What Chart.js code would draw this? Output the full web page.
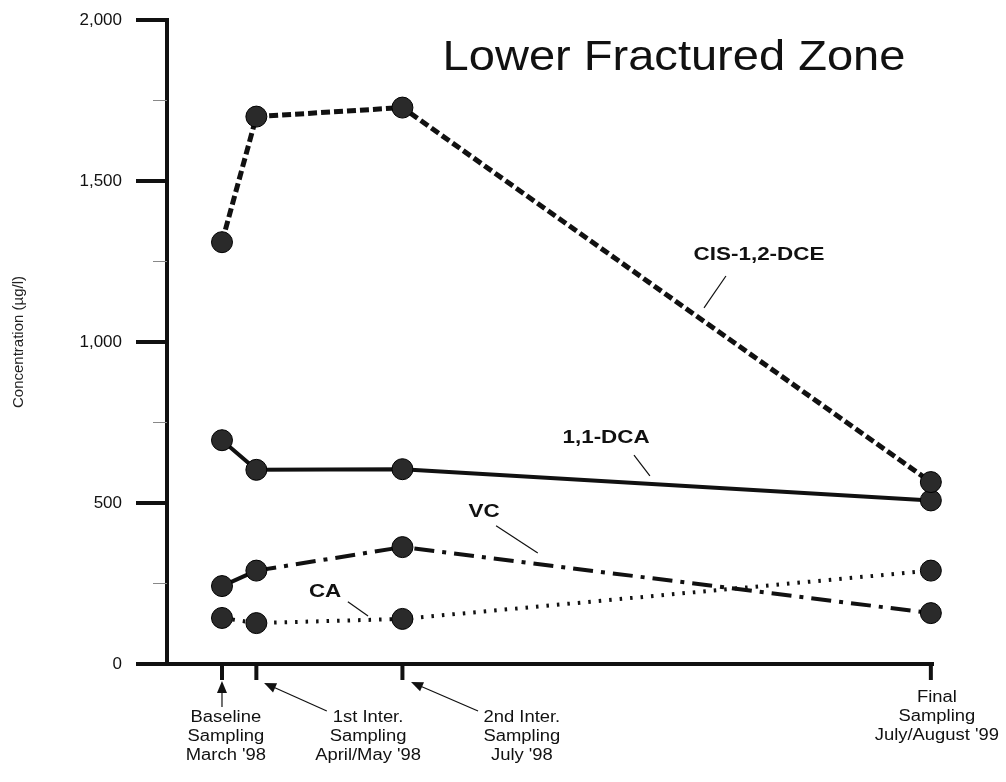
<!DOCTYPE html>
<html lang="en">
<head>
<meta charset="UTF-8">
<title>Lower Fractured Zone</title>
<script src="https://cdn.jsdelivr.net/npm/chart.js"></script>
<style>
  html, body { margin: 0; padding: 0; background: #fff; }
</style>
</head>
<body>
<canvas id="chart" width="1006" height="782"></canvas>
<script>
// sampling events, in months after the baseline round (March '98)
const sampleMonths = [0, 0.8, 4.2, 16.5];
const sampleLabels = [
  ['Baseline', 'Sampling', "March '98"],
  ['1st Inter.', 'Sampling', "April/May '98"],
  ['2nd Inter.', 'Sampling', "July '98"],
  ['Final', 'Sampling', "July/August '99"]
];
const seriesNames = ['CIS-1,2-DCE', '1,1-DCA', 'VC', 'CA'];
const cisDce = [1310, 1700, 1728, 565];
const dca = [695, 603, 605, 508];
const vc = [242, 290, 363, 158];
const ca = [143, 127, 140, 290];
const yTicks = [0, 500, 1000, 1500, 2000];

// where the series names and their leader lines sit (months, µg/l)
const seriesNotes = [
  { at: [12.5, 1270], from: [11.73, 1205], to: [11.22, 1106] },
  { at: [8.94, 702], from: [9.59, 649], to: [9.96, 584] },
  { at: [6.1, 472], from: [6.38, 429], to: [7.35, 345] },
  { at: [2.4, 224], from: [2.93, 193], to: [3.4, 149] }
];
// label centre (months), first line offset below the axis, arrow tip/tail
const sampleNotes = [
  { x: 0.09, top: 54, tip: [0, 17], tail: [0, 43] },
  { x: 3.4, top: 54, tip: [0.98, 19], tail: [2.44, 47] },
  { x: 6.98, top: 54, tip: [4.4, 18], tail: [5.96, 47] },
  { x: 16.64, top: 34 }
];

const FONT = 'Arial, "Liberation Sans", sans-serif';

function wideText(ctx, text, x, y, font, stretch) {
  ctx.save();
  ctx.font = font;
  ctx.translate(x, y);
  ctx.scale(stretch, 1);
  ctx.fillText(text, 0, 0);
  ctx.restore();
}

function arrow(ctx, x0, y0, x1, y1) {
  const ang = Math.atan2(y1 - y0, x1 - x0);
  ctx.beginPath();
  ctx.moveTo(x0, y0);
  ctx.lineTo(x1 - 10 * Math.cos(ang), y1 - 10 * Math.sin(ang));
  ctx.stroke();
  ctx.beginPath();
  ctx.moveTo(x1, y1);
  ctx.lineTo(x1 - 12 * Math.cos(ang) + 5 * Math.sin(ang), y1 - 12 * Math.sin(ang) - 5 * Math.cos(ang));
  ctx.lineTo(x1 - 12 * Math.cos(ang) - 5 * Math.sin(ang), y1 - 12 * Math.sin(ang) + 5 * Math.cos(ang));
  ctx.closePath();
  ctx.fill();
}

const decor = {
  id: 'decor',
  afterDraw(chart) {
    const { ctx, chartArea: a, scales: { x, y } } = chart;
    ctx.save();
    ctx.lineCap = 'butt';

    // y axis tick marks, long for labelled values, short for the rest
    y.ticks.forEach(t => {
      const py = y.getPixelForValue(t.value);
      const major = yTicks.includes(t.value);
      ctx.strokeStyle = major ? '#111' : '#888';
      ctx.lineWidth = major ? 4 : 1;
      ctx.beginPath();
      ctx.moveTo(a.left - (major ? 31 : 14), py);
      ctx.lineTo(a.left, py);
      ctx.stroke();
    });

    // x tick marks at each sampling round
    ctx.strokeStyle = '#111';
    ctx.lineWidth = 4;
    sampleMonths.forEach(m => {
      const px = x.getPixelForValue(m);
      ctx.beginPath();
      ctx.moveTo(px, a.bottom);
      ctx.lineTo(px, a.bottom + 16);
      ctx.stroke();
    });

    // sampling round labels and arrows
    ctx.fillStyle = '#111';
    ctx.textAlign = 'center';
    ctx.textBaseline = 'middle';
    ctx.lineWidth = 1.2;
    sampleNotes.forEach((n, i) => {
      const cx = x.getPixelForValue(n.x);
      sampleLabels[i].forEach((line, j) => {
        wideText(ctx, line, cx, a.bottom + n.top + j * 19, '16px ' + FONT, 1.15);
      });
      if (n.tip) {
        arrow(ctx,
          x.getPixelForValue(n.tail[0]), a.bottom + n.tail[1],
          x.getPixelForValue(n.tip[0]), a.bottom + n.tip[1]);
      }
    });

    // series names with leader lines
    seriesNotes.forEach((n, i) => {
      wideText(ctx, seriesNames[i], x.getPixelForValue(n.at[0]), y.getPixelForValue(n.at[1]),
        'bold 19px ' + FONT, 1.18);
      ctx.beginPath();
      ctx.moveTo(x.getPixelForValue(n.from[0]), y.getPixelForValue(n.from[1]));
      ctx.lineTo(x.getPixelForValue(n.to[0]), y.getPixelForValue(n.to[1]));
      ctx.stroke();
    });

    // chart heading inside the plot
    ctx.textBaseline = 'alphabetic';
    wideText(ctx, 'Lower Fractured Zone', (a.left + a.right) / 2 + 124, a.top + 50, '42px ' + FONT, 1.12);
    ctx.restore();
  }
};

function series(label, values, dash, width) {
  return {
    label: label,
    data: values.map((v, i) => ({ x: sampleMonths[i], y: v })),
    borderColor: '#111',
    borderWidth: width,
    borderDash: dash,
    pointRadius: 10.5,
    pointBackgroundColor: '#2a2a2a',
    pointBorderColor: '#000',
    pointBorderWidth: 1,
    tension: 0,
    clip: false
  };
}

const vcSet = series(seriesNames[2], vc, [20, 8, 4, 8], 4);
vcSet.segment = { borderDash: c => c.p0DataIndex === 0 ? [] : [20, 8, 4, 8] };

new Chart(document.getElementById('chart'), {
  type: 'line',
  data: {
    datasets: [
      series(seriesNames[0], cisDce, [9, 4], 5),
      series(seriesNames[1], dca, [], 4),
      vcSet,
      series(seriesNames[3], ca, [2.5, 8], 4)
    ]
  },
  options: {
    responsive: false,
    animation: false,
    layout: { padding: { top: 20, right: 73, left: 0, bottom: 0 } },
    plugins: { legend: { display: false }, tooltip: { enabled: false } },
    scales: {
      x: {
        type: 'linear',
        min: -1.28,
        max: 16.55,
        afterFit: s => { s.height = 118; s.paddingLeft = 0; s.paddingRight = 0; },
        grid: { drawOnChartArea: false, drawTicks: false },
        border: { color: '#111', width: 4 },
        ticks: { display: false }
      },
      y: {
        min: 0,
        max: 2000,
        afterFit: s => { s.width = 167; s.paddingTop = 0; s.paddingBottom = 0; },
        grid: { drawOnChartArea: false, drawTicks: false },
        border: { color: '#111', width: 4 },
        ticks: {
          stepSize: 250,
          padding: 45,
          color: '#111',
          font: { family: FONT, size: 17 },
          callback: v => yTicks.includes(v) ? v.toLocaleString('en-US') : ''
        },
        title: {
          display: true,
          text: 'Concentration (µg/l)',
          color: '#222',
          font: { family: FONT, size: 15 },
          padding: { top: 10, bottom: 0 }
        }
      }
    }
  },
  plugins: [decor]
});
</script>
</body>
</html>
